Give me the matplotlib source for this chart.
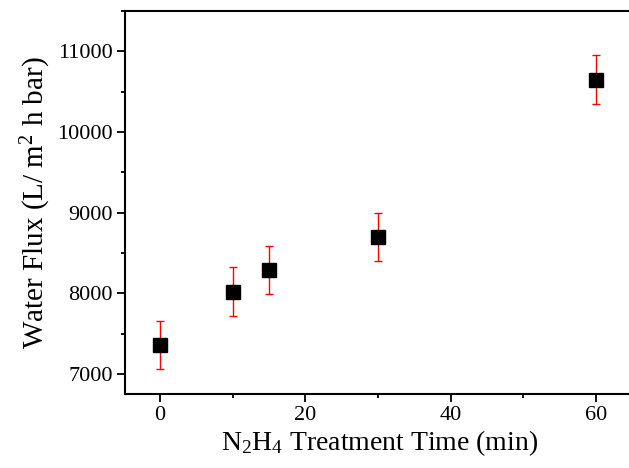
import numpy as np
import matplotlib
matplotlib.use("Agg")
import matplotlib.pyplot as plt
from matplotlib.ticker import MultipleLocator

# data
time_min = [0, 10, 15, 30, 60]
flux = [7360, 8020, 8290, 8700, 10650]
flux_err = [300, 300, 300, 300, 300]

plt.rcParams['font.family'] = ['Liberation Serif', 'DejaVu Serif']
plt.rcParams['mathtext.fontset'] = 'custom'
plt.rcParams['mathtext.rm'] = 'Liberation Serif'
plt.rcParams['mathtext.it'] = 'Liberation Serif:italic'

fig = plt.figure(figsize=(6.29, 4.68), dpi=100)
# right edge runs a bit past the figure, as in the reference
ax = fig.add_axes([125 / 629, 1 - 394 / 468, 509 / 629, 383 / 468])

ax.errorbar(time_min, flux, yerr=flux_err, fmt='s', color='black',
            markersize=9.5, ecolor='red', elinewidth=1, capsize=3, capthick=1)

ax.set_xlim(-4.8, 65.2)
ax.set_ylim(6750, 11500)
ax.xaxis.set_major_locator(MultipleLocator(20))
ax.xaxis.set_minor_locator(MultipleLocator(10))
ax.yaxis.set_major_locator(MultipleLocator(1000))
ax.yaxis.set_minor_locator(MultipleLocator(500))

ax.tick_params(which='both', direction='out', width=1.3, labelsize=16)
ax.tick_params(which='major', length=6, pad=3)
ax.tick_params(which='minor', length=3)
for s in ax.spines.values():
    s.set_linewidth(1.5)

ax.set_xlabel('N$_2$H$_4$ Treatment Time (min)', fontsize=20, labelpad=2)
ax.set_ylabel('Water Flux (L/ m$^2$ h bar)', fontsize=21, labelpad=3)

fig.savefig('out.png', dpi=100)
